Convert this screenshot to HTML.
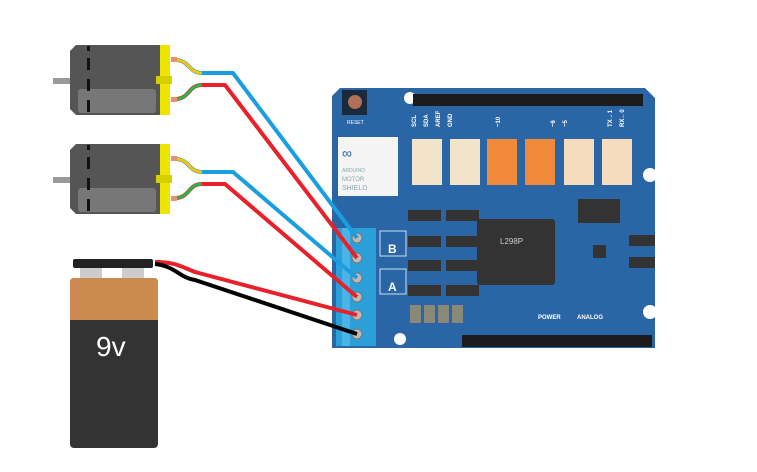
<!DOCTYPE html><html><head><style>html,body{margin:0;background:#fff;overflow:hidden;width:757px;height:472px}svg{display:block}</style></head><body>
<svg width="757" height="472" xmlns="http://www.w3.org/2000/svg" font-family="Liberation Sans, sans-serif">
<!-- shield -->
<path d="M340 88 H645 L655 98 V348 H332 V96 Z" fill="#2a66a6"/>
<circle cx="410" cy="98" r="6" fill="#fff"/><circle cx="650" cy="175" r="7" fill="#fff"/><circle cx="650" cy="312" r="7" fill="#fff"/><circle cx="400" cy="339" r="6" fill="#fff"/>
<rect x="342" y="90" width="25" height="25" fill="#1a2a3a"/><circle cx="355" cy="102" r="7" fill="#b0705a"/>
<text x="347" y="124" font-size="5" fill="#fff">RESET</text>
<rect x="413" y="94" width="230" height="12" fill="#1c1c1c"/>
<rect x="462" y="335" width="190" height="12" fill="#1c1c1c"/>
<g font-size="6" fill="#fff" font-weight="bold">
<text x="416" y="127" transform="rotate(-90 416 127)">SCL</text><text x="428" y="127" transform="rotate(-90 428 127)">SDA</text><text x="440" y="127" transform="rotate(-90 440 127)">AREF</text><text x="452" y="127" transform="rotate(-90 452 127)">GND</text><text x="500" y="127" transform="rotate(-90 500 127)">~10</text><text x="555" y="127" transform="rotate(-90 555 127)">~6</text><text x="567" y="127" transform="rotate(-90 567 127)">~5</text><text x="612" y="127" transform="rotate(-90 612 127)">TX→1</text><text x="624" y="127" transform="rotate(-90 624 127)">RX←0</text>
<text x="538" y="319">POWER</text><text x="577" y="319">ANALOG</text>
</g>
<rect x="338" y="137" width="60" height="59" fill="#f4f4f4"/>
<text x="342" y="158" font-size="14" fill="#2a66a6">∞</text>
<text x="342" y="172" font-size="5" fill="#8aa">ARDUINO</text>
<text x="342" y="181" font-size="6" fill="#8aa">MOTOR</text><text x="342" y="190" font-size="7" fill="#8aa">SHIELD</text>
<rect x="412" y="139" width="30" height="46" fill="#f2e4c8"/><rect x="450" y="139" width="30" height="46" fill="#f2e4c8"/>
<rect x="487" y="139" width="30" height="46" fill="#f08a3a"/><rect x="525" y="139" width="30" height="46" fill="#f08a3a"/>
<rect x="564" y="139" width="30" height="46" fill="#f5dcbc"/><rect x="602" y="139" width="30" height="46" fill="#f5dcbc"/>
<g fill="#333"><rect x="408" y="210" width="33" height="11"/><rect x="446" y="210" width="33" height="11"/><rect x="408" y="236" width="33" height="11"/><rect x="446" y="236" width="33" height="11"/><rect x="408" y="260" width="33" height="11"/><rect x="446" y="260" width="33" height="11"/><rect x="408" y="285" width="33" height="11"/><rect x="446" y="285" width="33" height="11"/><rect x="629" y="235" width="26" height="11"/><rect x="629" y="257" width="26" height="11"/>
<rect x="477" y="219" width="78" height="66" rx="3"/><rect x="578" y="199" width="42" height="24"/><rect x="593" y="245" width="13" height="13"/></g>
<g fill="#8a8878"><rect x="410" y="305" width="11" height="18"/><rect x="424" y="305" width="11" height="18"/><rect x="438" y="305" width="11" height="18"/><rect x="452" y="305" width="11" height="18"/></g>
<text x="500" y="244" font-size="8" fill="#ccc">L298P</text>
<rect x="380" y="231" width="26" height="25" fill="none" stroke="#cde" stroke-width="1"/><rect x="380" y="269" width="26" height="25" fill="none" stroke="#cde" stroke-width="1"/>
<text x="388" y="253" font-size="12" font-weight="bold" fill="#fff">B</text><text x="388" y="291" font-size="12" font-weight="bold" fill="#fff">A</text>
<rect x="336" y="228" width="40" height="118" fill="#2b9fd8"/><rect x="342" y="228" width="8" height="118" fill="#4bb4e6"/>
<g fill="#bbb" stroke="#777"><circle cx="357" cy="238" r="5"/><circle cx="357" cy="258" r="5"/><circle cx="357" cy="278" r="5"/><circle cx="357" cy="297" r="5"/><circle cx="357" cy="315" r="5"/><circle cx="357" cy="334" r="5"/></g>
<!-- wires -->
<g fill="none" stroke-width="4" stroke-linejoin="round">
<path d="M175 60 C190 60 188 73 202 73 H233 L357 238" stroke="#1a9ee0"/>
<path d="M175 99 C190 99 188 85 202 85 H225 L357 258" stroke="#e8202a"/>
<path d="M175 159 C190 159 188 172 202 172 H233 L357 278" stroke="#1a9ee0"/>
<path d="M175 198 C190 198 188 184 202 184 H225 L357 297" stroke="#e8202a"/>
<path d="M155 262 C175 262 180 266 195 272 L357 315" stroke="#e8202a"/>
<path d="M155 264 C175 266 180 278 195 280 L357 334" stroke="#000"/>
</g>
<g fill="none" stroke-width="3"><path d="M175 60 C190 60 188 73 202 73" stroke="#f4c20d"/><path d="M175 99 C190 99 188 85 202 85" stroke="#2fb24a"/><path d="M175 159 C190 159 188 172 202 172" stroke="#f4c20d"/><path d="M175 198 C190 198 188 184 202 184" stroke="#2fb24a"/></g>
<!-- motors -->
<g id="m"><rect x="53" y="78" width="18" height="6" fill="#999"/>
<path d="M76 45 H160 V115 H76 L70 109 V51 Z" fill="#555"/><rect x="78" y="89" width="78" height="24" rx="3" fill="#777"/>
<g fill="#111"><rect x="87" y="46" width="3" height="5"/><rect x="87" y="58" width="3" height="12"/><rect x="87" y="79" width="3" height="12"/><rect x="87" y="100" width="3" height="12"/></g>
<rect x="160" y="45" width="10" height="70" fill="#ede500"/><rect x="156" y="76" width="16" height="8" fill="#d6cf00"/>
<rect x="171" y="57" width="6" height="5" fill="#e89070"/><rect x="171" y="97" width="6" height="5" fill="#e89070"/></g>
<use href="#m" y="99"/>
<!-- battery -->
<rect x="73" y="259" width="80" height="9" rx="2" fill="#222"/>
<rect x="80" y="268" width="22" height="10" fill="#ccc"/><rect x="122" y="268" width="22" height="10" fill="#ccc"/>
<rect x="70" y="278" width="88" height="170" rx="4" fill="#333"/>
<path d="M74 278 H154 Q158 278 158 282 V320 H70 V282 Q70 278 74 278 Z" fill="#cc8a50"/>
<text x="96" y="356" font-size="28" fill="#fff">9v</text>
</svg></body></html>
